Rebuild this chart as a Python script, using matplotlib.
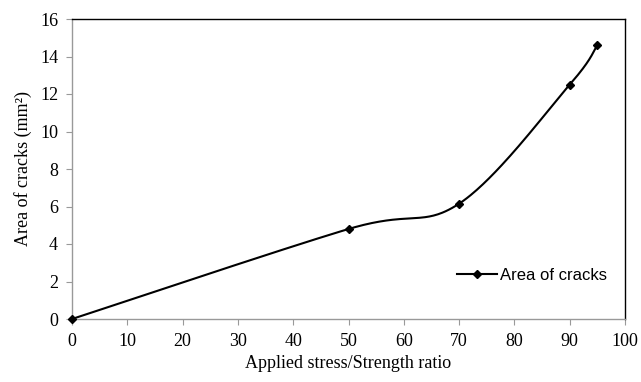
import numpy as np
import matplotlib.pyplot as plt

stress_ratio = [0, 50, 70, 90, 95]
crack_area = [0, 4.8, 6.15, 12.5, 14.6]


def excel_smooth(xs, ys, n=60):
    # Catmull-Rom style bezier like Excel's "smoothed line"
    p = np.column_stack([xs, ys]).astype(float)
    out = [p[0]]
    for i in range(len(p) - 1):
        p0 = p[i - 1] if i > 0 else p[i]
        p1 = p[i]
        p2 = p[i + 1]
        p3 = p[i + 2] if i + 2 < len(p) else p[i + 1]
        c1 = p1 + (p2 - p0) / 6
        c2 = p2 - (p3 - p1) / 6
        t = np.linspace(0, 1, n)[1:, None]
        seg = ((1 - t) ** 3) * p1 + 3 * ((1 - t) ** 2) * t * c1 + 3 * (1 - t) * t ** 2 * c2 + t ** 3 * p2
        out.extend(seg)
    out = np.array(out)
    return out[:, 0], out[:, 1]


sx, sy = excel_smooth(stress_ratio, crack_area)

fig = plt.figure(figsize=(6.41, 3.82), dpi=100)
ax = fig.add_axes([72 / 641, 1 - 319 / 382, (625 - 72) / 641, 300 / 382])

ax.plot(sx, sy, color='black', linewidth=1.5, clip_on=False)
ax.plot(stress_ratio, crack_area, linestyle='none', marker='D', markersize=4.5, color='black',
        clip_on=False, zorder=5)
ax.plot([], [], color='black', linewidth=1.5, marker='D', markersize=4, label='Area of cracks')

ax.set_xlim(0, 100)
ax.set_ylim(0, 16)
ax.set_xticks(range(0, 101, 10))
ax.set_yticks(range(0, 17, 2))

serif = 'Liberation Serif'
for lab in ax.get_xticklabels() + ax.get_yticklabels():
    lab.set_fontfamily(serif)
    lab.set_fontsize(13)
ax.tick_params(direction='out', length=4, color='#999999', pad=6)

ax.spines['left'].set_color('#999999')
ax.spines['bottom'].set_color('#999999')
ax.spines['top'].set_color('black')
ax.spines['right'].set_color('black')
for s in ax.spines.values():
    s.set_linewidth(1)

ax.set_xlabel('Applied stress/Strength ratio', fontfamily=serif, fontsize=13, labelpad=4)
ax.set_ylabel('Area of cracks (mm²)', fontfamily=serif, fontsize=13, labelpad=6)

ax.legend(loc='lower right', bbox_to_anchor=(0.995, 0.07), frameon=False,
          prop={'family': 'Liberation Sans', 'size': 12}, handlelength=2.4, handletextpad=0.2)

fig.savefig('out.png', dpi=100)
